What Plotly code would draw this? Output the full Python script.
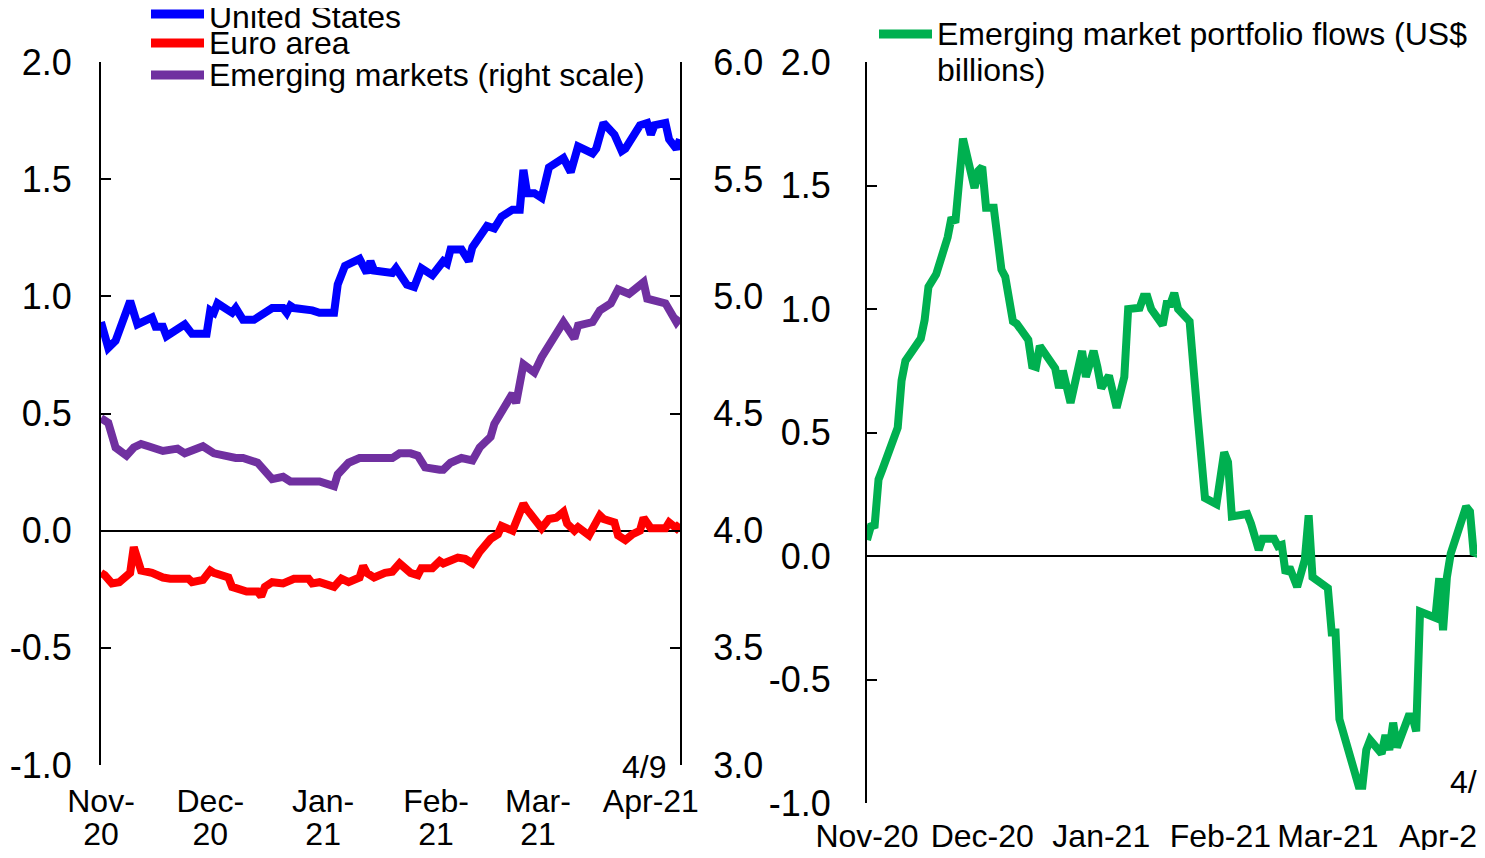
import plotly.graph_objects as go

# page body has an 8px margin, so the figure is drawn 8px in from the window edge
PAGE_W, PAGE_H = 1485, 858
OFF = 8
W, H = PAGE_W - 2 * OFF, PAGE_H - 2 * OFF
FONT = "Liberation Sans, Arial, sans-serif"

# ---- left panel: 10-year yields (%), EM on right scale ----
us_dates = ["2020-11-01", "2020-11-03", "2020-11-05", "2020-11-09", "2020-11-11", "2020-11-15",
            "2020-11-16", "2020-11-18", "2020-11-19", "2020-11-24", "2020-11-26", "2020-11-30",
            "2020-12-01", "2020-12-02", "2020-12-03", "2020-12-07", "2020-12-08", "2020-12-10",
            "2020-12-13", "2020-12-16", "2020-12-18", "2020-12-21", "2020-12-22", "2020-12-23",
            "2020-12-24", "2020-12-29", "2020-12-31", "2021-01-04", "2021-01-05", "2021-01-07",
            "2021-01-11", "2021-01-13", "2021-01-14", "2021-01-15", "2021-01-20", "2021-01-21",
            "2021-01-24", "2021-01-26", "2021-01-28", "2021-01-31", "2021-02-03", "2021-02-04",
            "2021-02-05", "2021-02-08", "2021-02-10", "2021-02-11", "2021-02-15", "2021-02-17",
            "2021-02-19", "2021-02-22", "2021-02-24", "2021-02-25", "2021-02-26", "2021-02-28",
            "2021-03-02", "2021-03-04", "2021-03-08", "2021-03-10", "2021-03-12", "2021-03-16",
            "2021-03-17", "2021-03-19", "2021-03-22", "2021-03-24", "2021-03-25", "2021-03-29",
            "2021-03-31", "2021-04-01", "2021-04-02", "2021-04-05", "2021-04-06", "2021-04-08",
            "2021-04-09"]
us_vals = [0.89, 0.78, 0.81, 0.98, 0.88, 0.91, 0.87, 0.87, 0.83, 0.88, 0.84, 0.84,
           0.94, 0.93, 0.97, 0.93, 0.95, 0.90, 0.90, 0.93, 0.95, 0.95, 0.93, 0.96,
           0.95, 0.94, 0.93, 0.93, 1.05, 1.13, 1.16, 1.10, 1.15, 1.11, 1.10, 1.12,
           1.05, 1.04, 1.12, 1.09, 1.15, 1.14, 1.20, 1.20, 1.15, 1.21, 1.30, 1.29,
           1.34, 1.37, 1.37, 1.54, 1.44, 1.44, 1.42, 1.55, 1.59, 1.53, 1.64, 1.61,
           1.63, 1.74, 1.69, 1.62, 1.63, 1.73, 1.74, 1.69, 1.73, 1.74, 1.67, 1.63,
           1.67]

ea_dates = ["2020-11-01", "2020-11-02", "2020-11-04", "2020-11-06", "2020-11-09", "2020-11-10",
            "2020-11-12", "2020-11-15", "2020-11-18", "2020-11-20", "2020-11-25", "2020-11-26",
            "2020-11-29", "2020-12-01", "2020-12-02", "2020-12-06", "2020-12-07", "2020-12-11",
            "2020-12-14", "2020-12-15", "2020-12-16", "2020-12-18", "2020-12-21", "2020-12-24",
            "2020-12-28", "2020-12-29", "2020-12-31", "2021-01-04", "2021-01-06", "2021-01-08",
            "2021-01-11", "2021-01-12", "2021-01-13", "2021-01-15", "2021-01-18", "2021-01-20",
            "2021-01-22", "2021-01-25", "2021-01-27", "2021-01-28", "2021-01-31", "2021-02-02",
            "2021-02-03", "2021-02-07", "2021-02-09", "2021-02-11", "2021-02-13", "2021-02-16",
            "2021-02-18", "2021-02-19", "2021-02-22", "2021-02-23", "2021-02-25", "2021-02-26",
            "2021-03-02", "2021-03-04", "2021-03-06", "2021-03-08", "2021-03-09", "2021-03-11",
            "2021-03-12", "2021-03-15", "2021-03-18", "2021-03-19", "2021-03-22", "2021-03-23",
            "2021-03-25", "2021-03-27", "2021-03-29", "2021-03-30", "2021-03-31", "2021-04-01",
            "2021-04-05", "2021-04-06", "2021-04-08", "2021-04-09"]
ea_vals = [-0.18, -0.19, -0.225, -0.22, -0.18, -0.07, -0.17, -0.18, -0.20, -0.205, -0.205, -0.22,
           -0.21, -0.17, -0.18, -0.20, -0.24, -0.26, -0.26, -0.28, -0.24, -0.22, -0.225, -0.205,
           -0.205, -0.225, -0.22, -0.24, -0.205, -0.22, -0.20, -0.15, -0.18, -0.20, -0.18, -0.175,
           -0.14, -0.18, -0.19, -0.16, -0.16, -0.13, -0.14, -0.115, -0.12, -0.14, -0.09, -0.035,
           -0.015, 0.02, 0.0, 0.04, 0.115, 0.09, 0.01, 0.05, 0.055, 0.08, 0.03, 0.0,
           0.015, -0.02, 0.065, 0.05, 0.035, -0.02, -0.04, -0.015, 0.0, 0.055, 0.035, 0.01,
           0.01, 0.035, 0.01, 0.03]

em_dates = ["2020-11-01", "2020-11-03", "2020-11-05", "2020-11-08", "2020-11-10", "2020-11-12",
            "2020-11-14", "2020-11-18", "2020-11-22", "2020-11-24", "2020-11-29", "2020-12-02",
            "2020-12-08", "2020-12-10", "2020-12-14", "2020-12-18", "2020-12-21", "2020-12-23",
            "2020-12-31", "2021-01-04", "2021-01-05", "2021-01-08", "2021-01-11", "2021-01-20",
            "2021-01-22", "2021-01-25", "2021-01-27", "2021-01-29", "2021-02-02", "2021-02-03",
            "2021-02-05", "2021-02-08", "2021-02-11", "2021-02-13", "2021-02-16", "2021-02-17",
            "2021-02-22", "2021-02-23", "2021-02-25", "2021-02-28", "2021-03-02", "2021-03-05",
            "2021-03-08", "2021-03-11", "2021-03-12", "2021-03-16", "2021-03-18", "2021-03-21",
            "2021-03-23", "2021-03-26", "2021-03-30", "2021-03-31", "2021-04-05", "2021-04-08",
            "2021-04-09"]
em_vals = [4.48, 4.46, 4.355, 4.32, 4.355, 4.37, 4.36, 4.34, 4.35, 4.33, 4.36, 4.33,
           4.31, 4.31, 4.29, 4.22, 4.23, 4.21, 4.21, 4.19, 4.24, 4.29, 4.31, 4.31,
           4.33, 4.33, 4.32, 4.27, 4.26, 4.26, 4.29, 4.31, 4.30, 4.355, 4.40, 4.455,
           4.585, 4.545, 4.71, 4.675, 4.74, 4.81, 4.89, 4.82, 4.875, 4.89, 4.94, 4.97,
           5.03, 5.01, 5.06, 4.99, 4.97, 4.89, 4.91]

# ---- right panel: EM portfolio flows (US$ billions) ----
flow_dates = ["2020-11-01", "2020-11-02", "2020-11-03", "2020-11-04", "2020-11-05", "2020-11-09",
              "2020-11-10", "2020-11-11", "2020-11-15", "2020-11-16", "2020-11-17", "2020-11-19",
              "2020-11-22", "2020-11-23", "2020-11-24", "2020-11-26", "2020-11-29", "2020-11-30",
              "2020-12-01", "2020-12-02", "2020-12-04", "2020-12-06", "2020-12-07", "2020-12-09",
              "2020-12-10", "2020-12-13", "2020-12-14", "2020-12-15", "2020-12-16", "2020-12-20",
              "2020-12-21", "2020-12-22", "2020-12-24", "2020-12-27", "2020-12-28", "2020-12-30",
              "2020-12-31", "2021-01-01", "2021-01-03", "2021-01-05", "2021-01-07", "2021-01-08",
              "2021-01-11", "2021-01-12", "2021-01-13", "2021-01-14", "2021-01-17", "2021-01-18",
              "2021-01-19", "2021-01-20", "2021-01-21", "2021-01-24", "2021-01-26", "2021-01-28",
              "2021-01-31", "2021-02-02", "2021-02-03", "2021-02-04", "2021-02-08", "2021-02-09",
              "2021-02-11", "2021-02-12", "2021-02-15", "2021-02-16", "2021-02-17", "2021-02-18",
              "2021-02-19", "2021-02-21", "2021-02-23", "2021-02-24", "2021-02-25", "2021-03-01",
              "2021-03-02", "2021-03-03", "2021-03-04", "2021-03-09", "2021-03-10", "2021-03-11",
              "2021-03-12", "2021-03-15", "2021-03-16", "2021-03-17", "2021-03-18", "2021-03-19",
              "2021-03-22", "2021-03-23", "2021-03-24", "2021-03-25", "2021-03-29", "2021-03-30",
              "2021-03-31", "2021-04-01", "2021-04-02", "2021-04-05", "2021-04-06", "2021-04-07",
              "2021-04-08", "2021-04-10"]
flow_vals = [0.065, 0.12, 0.125, 0.31, 0.35, 0.52, 0.71, 0.79, 0.88, 0.955, 1.09, 1.14,
             1.29, 1.37, 1.35, 1.69, 1.49, 1.56, 1.575, 1.41, 1.41, 1.16, 1.13, 0.95,
             0.94, 0.875, 0.77, 0.765, 0.85, 0.76, 0.68, 0.75, 0.62, 0.83, 0.725, 0.83,
             0.765, 0.68, 0.73, 0.60, 0.725, 1.00, 1.005, 1.05, 1.05, 1.00, 0.935, 1.02,
             1.02, 1.065, 1.00, 0.95, 0.58, 0.235, 0.21, 0.42, 0.38, 0.16, 0.17, 0.13,
             0.025, 0.07, 0.07, 0.04, 0.045, -0.07, -0.045, -0.125, -0.015, 0.165, -0.085, -0.13,
             -0.31, -0.31, -0.66, -0.93, -0.93, -0.785, -0.745, -0.80, -0.725, -0.785, -0.675, -0.775,
             -0.65, -0.65, -0.71, -0.225, -0.25, -0.09, -0.30, -0.085, 0.01, 0.145, 0.20, 0.18,
             0.005, 0.035]

month_ticks = ["2020-11-01", "2020-12-01", "2021-01-01", "2021-02-01", "2021-03-01", "2021-04-01"]
left_tick_top = ["Nov-", "Dec-", "Jan-", "Feb-", "Mar-", "Apr-21"]
left_tick_bottom = ["20", "20", "21", "21", "21", ""]
right_ticks = ["Nov-20", "Dec-20", "Jan-21", "Feb-21", "Mar-21", "Apr-21"]
left_yticks = [-1.0, -0.5, 0.0, 0.5, 1.0, 1.5, 2.0]
em_yticks = [3.0, 3.5, 4.0, 4.5, 5.0, 5.5, 6.0]

legend_left = [("United States", "#0000FF"), ("Euro area", "#FF0000"),
               ("Emerging markets (right scale)", "#7030A0")]
legend_right_lines = ["Emerging market portfolio flows (US$", "billions)"]
GREEN = "#00B050"


def px_x(x):
    # window pixel -> paper fraction
    return (x - OFF) / W


def px_y(y):
    return 1 - (y - OFF) / H


tick_font = dict(family=FONT, size=32, color="black")
ytick_font = dict(family=FONT, size=36, color="black")
yaxis_style = dict(
    showline=True, linecolor="black", linewidth=2, ticks="inside", ticklen=10,
    tickwidth=2, tickcolor="black", showgrid=False, tickfont=ytick_font, automargin=False,
)
xaxis_style = dict(
    type="date", tickvals=month_ticks, ticks="", showline=False, showgrid=False,
    zeroline=False, tickfont=tick_font, tickangle=0, ticklabeloverflow="allow",
    automargin=False,
)

fig = go.Figure()
fig.add_trace(go.Scatter(x=em_dates, y=em_vals, xaxis="x", yaxis="y2", mode="lines",
                         line=dict(color=legend_left[2][1], width=8), showlegend=False))
fig.add_trace(go.Scatter(x=us_dates, y=us_vals, xaxis="x", yaxis="y", mode="lines",
                         line=dict(color=legend_left[0][1], width=8), showlegend=False))
fig.add_trace(go.Scatter(x=ea_dates, y=ea_vals, xaxis="x", yaxis="y", mode="lines",
                         line=dict(color=legend_left[1][1], width=8), showlegend=False))
# empty trace so the second row of month labels (xaxis2) gets drawn
fig.add_trace(go.Scatter(x=month_ticks, y=[None] * len(month_ticks), xaxis="x2", yaxis="y",
                         mode="lines", hoverinfo="skip", showlegend=False))
fig.add_trace(go.Scatter(x=flow_dates, y=flow_vals, xaxis="x3", yaxis="y3", mode="lines",
                         line=dict(color=GREEN, width=8), showlegend=False))

left_dom = [px_x(101), px_x(680)]
right_dom = [px_x(867), 1.0]
left_range = ["2020-11-01", "2021-04-09"]
right_range = ["2020-11-01", "2021-04-08 20:00"]

fig.update_layout(
    template="none",
    width=W, height=H, autosize=False,
    margin=dict(l=0, r=0, t=0, b=0, pad=0),
    paper_bgcolor="white", plot_bgcolor="white",
    font=dict(family=FONT, size=32, color="black"),
    showlegend=False,
    xaxis=dict(domain=left_dom, range=left_range, anchor="y", ticktext=left_tick_top,
               ticklabelstandoff=14, **xaxis_style),
    xaxis2=dict(domain=left_dom, range=left_range, anchor="y", overlaying="x", side="bottom",
                ticktext=left_tick_bottom, ticklabelstandoff=47, **xaxis_style),
    yaxis=dict(domain=[px_y(765), px_y(62)], range=[-1, 2], anchor="x",
               tickvals=left_yticks, ticktext=[f"{v:.1f}" for v in left_yticks],
               ticklabelstandoff=20, zeroline=True, zerolinecolor="black", zerolinewidth=1.5,
               **yaxis_style),
    yaxis2=dict(range=[3, 6], anchor="x", overlaying="y", side="right",
                tickvals=em_yticks, ticktext=[f"{v:.1f}" for v in em_yticks],
                ticklabelstandoff=24, zeroline=False, **yaxis_style),
    xaxis3=dict(domain=right_dom, range=right_range, anchor="y3", ticktext=right_ticks,
                ticklabelstandoff=11, **xaxis_style),
    yaxis3=dict(domain=[px_y(803), px_y(62)], range=[-1, 2], anchor="x3",
                tickvals=left_yticks, ticktext=[f"{v:.1f}" for v in left_yticks],
                ticklabelstandoff=27, zeroline=True, zerolinecolor="black", zerolinewidth=1.5,
                **yaxis_style),
)

# legends drawn as key lines + text
shapes = []
annotations = []
for (name, color), key_y, text_y in zip(legend_left, [14, 43, 75], [17, 43, 75]):
    shapes.append(dict(type="line", xref="paper", yref="paper",
                       x0=px_x(151), x1=px_x(204), y0=px_y(key_y), y1=px_y(key_y),
                       line=dict(color=color, width=9)))
    annotations.append(dict(text=name, xref="paper", yref="paper", x=px_x(207), y=px_y(text_y),
                            xanchor="left", yanchor="middle", showarrow=False,
                            font=dict(family=FONT, size=32, color="black")))

shapes.append(dict(type="line", xref="paper", yref="paper",
                   x0=px_x(879), x1=px_x(932), y0=px_y(34), y1=px_y(34),
                   line=dict(color=GREEN, width=9)))
for txt, yc in zip(legend_right_lines, [34, 70]):
    annotations.append(dict(text=txt, xref="paper", yref="paper", x=px_x(935), y=px_y(yc),
                            xanchor="left", yanchor="middle", showarrow=False,
                            font=dict(family=FONT, size=32, color="black")))

# date stamps
annotations.append(dict(text="4/9", xref="paper", yref="paper", x=px_x(668), y=px_y(767),
                        xanchor="right", yanchor="middle", showarrow=False,
                        font=dict(family=FONT, size=32, color="black")))
annotations.append(dict(text="4/9", xref="paper", yref="paper", x=px_x(1448), y=px_y(782),
                        xanchor="left", yanchor="middle", showarrow=False,
                        font=dict(family=FONT, size=32, color="black")))

fig.update_layout(shapes=shapes, annotations=annotations)

fig.write_html("out.html")
